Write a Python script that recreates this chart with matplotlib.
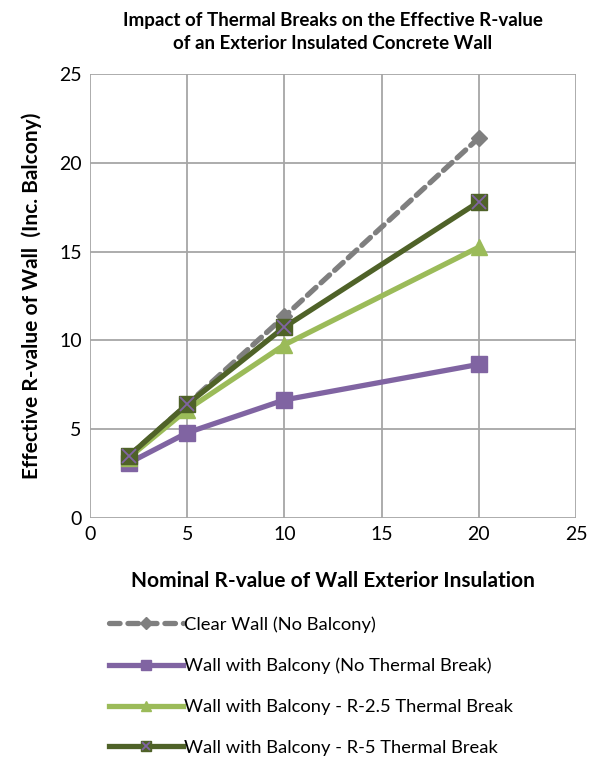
import matplotlib
matplotlib.use("Agg")
import matplotlib.pyplot as plt
from matplotlib.lines import Line2D
from matplotlib.legend_handler import HandlerTuple

plt.rcParams['font.family'] = ['Lato', 'DejaVu Sans']

x_vals = [2, 5, 10, 20]
clear_wall = [3.5, 6.4, 11.35, 21.4]
no_break = [3.1, 4.8, 6.65, 8.65]
break_r25 = [3.4, 6.1, 9.75, 15.25]
break_r5 = [3.5, 6.4, 10.75, 17.8]

labels = ["Clear Wall (No Balcony)",
          "Wall with Balcony (No Thermal Break)",
          "Wall with Balcony - R-2.5 Thermal Break",
          "Wall with Balcony - R-5 Thermal Break"]
ticks = [0, 5, 10, 15, 20, 25]

grey = "#7F7F7F"
purple = "#8064A2"
lgreen = "#9BBB59"
dgreen = "#4F6228"

fig = plt.figure(figsize=(6.03, 7.61), dpi=100)
ax = fig.add_axes([90/603, 1-518/761, (576-90)/603, (518-74)/761])

lw = 3.8
h1, = ax.plot(x_vals, clear_wall, color=grey, lw=lw, ls=(0, (2.2, 1.3)), marker='D',
              ms=8, mfc=grey, mec=grey, dash_capstyle='round', zorder=3)
h2, = ax.plot(x_vals, no_break, color=purple, lw=lw, marker='s', ms=12,
              mfc=purple, mec=purple, zorder=4)
h3, = ax.plot(x_vals, break_r25, color=lgreen, lw=lw, marker='^', ms=12,
              mfc=lgreen, mec=lgreen, zorder=5)
h4, = ax.plot(x_vals, break_r5, color=dgreen, lw=lw, marker='s', ms=12,
              mfc=dgreen, mec=dgreen, zorder=6)
h4x, = ax.plot(x_vals, break_r5, ls='none', marker='x', ms=10, mew=1.3,
               color=purple, zorder=7)

ax.set_xlim(0, 25)
ax.set_ylim(0, 25)
ax.set_xticks(ticks)
ax.set_yticks(ticks)
ax.grid(True, color="#A6A6A6", lw=1.3)
ax.set_axisbelow(True)
for s in ax.spines.values():
    s.set_visible(False)
ax.tick_params(length=0, labelsize=14, pad=6, colors='#000000')

ax.set_title("Impact of Thermal Breaks on the Effective R-value\nof an Exterior Insulated Concrete Wall",
             fontsize=13.5, fontweight='bold', pad=18, linespacing=1.45)
ax.set_xlabel("Nominal R-value of Wall Exterior Insulation", fontsize=15,
              fontweight='bold', labelpad=20)
ax.set_ylabel("Effective R-value of Wall  (Inc. Balcony)", fontsize=15,
              fontweight='bold', labelpad=12)

lh1 = Line2D([], [], color=grey, lw=lw, ls=(0, (2.0, 1.5)), dash_capstyle='round',
             marker='D', ms=6, mfc=grey, mec=grey)
lh2 = Line2D([], [], color=purple, lw=lw, marker='s', ms=7, mfc=purple, mec=purple)
lh3 = Line2D([], [], color=lgreen, lw=lw, marker='^', ms=7, mfc=lgreen, mec=lgreen)
lh4 = Line2D([], [], color=dgreen, lw=lw, marker='s', ms=7, mfc=dgreen, mec=dgreen)
lh4x = Line2D([], [], ls='none', marker='x', ms=6, mew=1.3, color=purple)

fig.legend([lh1, lh2, lh3, (lh4, lh4x)], labels,
           handler_map={tuple: HandlerTuple(ndivide=1, pad=0)},
           loc='upper left', bbox_to_anchor=(102/603, 1-609/761),
           frameon=False, fontsize=13.2, handlelength=4.0, handletextpad=0.1,
           labelspacing=1.35, borderaxespad=0)

fig.savefig("out.png", dpi=100)
